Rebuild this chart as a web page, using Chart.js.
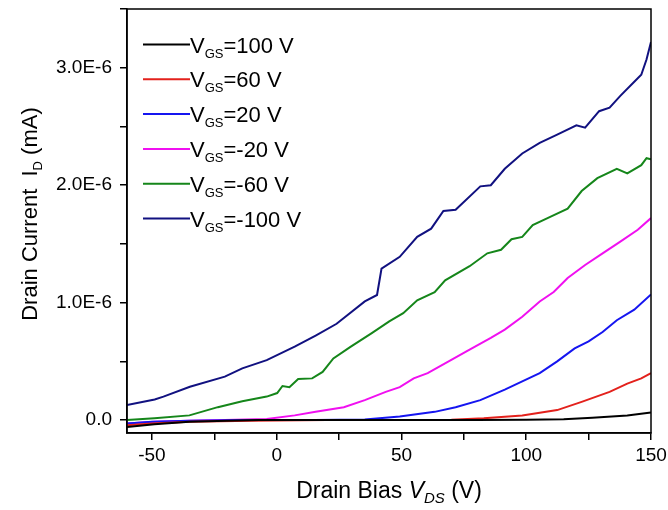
<!DOCTYPE html>
<html>
<head>
<meta charset="utf-8">
<script src="https://cdn.jsdelivr.net/npm/chart.js@4/dist/chart.umd.min.js"></script>
<style>
  html, body { margin: 0; padding: 0; background: #fff; }
  #wrap { width: 668px; height: 510px; }
</style>
</head>
<body>
<div id="wrap"><canvas id="ivChart" width="668" height="510"></canvas></div>
<script>
// currents in units of 1E-6 mA
var vgs100X = [-60, -49, -35, -20, -7, 30, 80, 100, 115, 126.5, 140.5, 150];
var vgs100Y = [-0.06, -0.035, -0.015, -0.005, 0, 0, 0, 0.003, 0.008, 0.02, 0.04, 0.065];

var vgs60X = [-60, -50, -35, -10, 20, 50, 70, 83, 98.4, 112.4, 122.2, 133.4, 140.5, 146.1, 150];
var vgs60Y = [-0.045, -0.03, -0.015, -0.005, 0, 0, 0.003, 0.015, 0.04, 0.085, 0.155, 0.24, 0.31, 0.355, 0.40];

var vgs20X = [-60, -50, -35, -10, 15, 35.3, 49.3, 63.3, 71.7, 81.6, 91.4, 98.4, 105.4, 112.4, 119.4, 125, 130.6, 136.3, 143.3, 150];
var vgs20Y = [-0.03, -0.015, -0.005, 0, 0, 0.005, 0.03, 0.07, 0.11, 0.17, 0.26, 0.33, 0.40, 0.50, 0.61, 0.67, 0.75, 0.85, 0.94, 1.07];

var vgsm20X = [-60, -49, -35, -20.8, -4, 7.2, 15.6, 26.9, 35.3, 43.7, 49.3, 54.9, 60.5, 68.9, 77.3, 85.8, 91.4, 98.4, 105.4, 111, 116.6, 123.6, 130.6, 137.7, 144.7, 150];
var vgsm20Y = [-0.03, -0.015, -0.005, 0, 0.01, 0.04, 0.07, 0.11, 0.17, 0.24, 0.28, 0.355, 0.40, 0.50, 0.60, 0.70, 0.77, 0.88, 1.01, 1.09, 1.21, 1.32, 1.42, 1.52, 1.62, 1.72];

var vgsm60X = [-60, -49, -35, -23.6, -13.8, -4, 0.2, 2.3, 5.1, 8.6, 14.2, 18.4, 22.7, 29.7, 38.1, 45.1, 50.7, 56.3, 63.3, 67.5, 77.3, 84.4, 89.9, 94.1, 98.4, 102.6, 109.6, 116.6, 122.2, 128.5, 136.3, 140.5, 146.1, 148.2, 150];
var vgsm60Y = [0, 0.015, 0.04, 0.11, 0.16, 0.2, 0.23, 0.29, 0.28, 0.35, 0.355, 0.41, 0.525, 0.625, 0.74, 0.84, 0.91, 1.02, 1.09, 1.19, 1.31, 1.42, 1.45, 1.54, 1.56, 1.66, 1.73, 1.80, 1.95, 2.06, 2.14, 2.10, 2.17, 2.23, 2.22];

var vgsm100X = [-60, -48.9, -45.4, -34.8, -20.8, -13.8, -4, 7.2, 15.6, 24, 35.3, 40.2, 42, 49.3, 56.3, 61.9, 66.8, 71.7, 81.6, 85.8, 91.4, 98.4, 105.4, 112.4, 120.1, 123.6, 129.2, 133.4, 137.7, 143.3, 146.1, 148.2, 150];
var vgsm100Y = [0.128, 0.176, 0.20, 0.284, 0.37, 0.44, 0.51, 0.625, 0.72, 0.82, 1.01, 1.065, 1.29, 1.39, 1.56, 1.63, 1.78, 1.79, 1.99, 2.0, 2.14, 2.27, 2.36, 2.43, 2.51, 2.49, 2.63, 2.66, 2.76, 2.88, 2.94, 3.07, 3.22];

var seriesLabels = ['=100 V', '=60 V', '=20 V', '=-20 V', '=-60 V', '=-100 V'];
var seriesColors = ['#000000', '#e3211c', '#1515f0', '#f010f0', '#15861a', '#111180'];
var seriesX = [vgs100X, vgs60X, vgs20X, vgsm20X, vgsm60X, vgsm100X];
var seriesY = [vgs100Y, vgs60Y, vgs20Y, vgsm20Y, vgsm60Y, vgsm100Y];

var FONT = '"Liberation Sans", Arial, sans-serif';

function toPoints(xs, ys) {
	var pts = [];
	for (var i = 0; i < xs.length; i++) pts.push({x: xs[i], y: ys[i]});
	return pts;
}

var datasets = [];
for (var i = 0; i < seriesLabels.length; i++) {
	datasets.push({
		label: 'VGS' + seriesLabels[i],
		data: toPoints(seriesX[i], seriesY[i]),
		borderColor: seriesColors[i],
		backgroundColor: seriesColors[i],
		borderWidth: 2,
		pointRadius: 0,
		tension: 0,
		fill: false
	});
}

// box round the plot area
var framePlugin = {
	id: 'frame',
	afterDatasetsDraw: function(chart) {
		var a = chart.chartArea, ctx = chart.ctx;
		ctx.save();
		ctx.strokeStyle = '#000';
		ctx.lineWidth = 1.5;
		ctx.strokeRect(a.left, a.top, a.right - a.left, a.bottom - a.top);
		ctx.restore();
	}
};

// draws runs of text with subscripts / italics, starting at x
function drawRuns(ctx, runs, x, y) {
	runs.forEach(function(r) {
		ctx.font = (r.italic ? 'italic ' : '') + r.size + 'px ' + FONT;
		ctx.fillText(r.text, x, y + (r.dy || 0));
		x += ctx.measureText(r.text).width;
	});
	return x;
}
function runsWidth(ctx, runs) {
	var w = 0;
	runs.forEach(function(r) {
		ctx.font = (r.italic ? 'italic ' : '') + r.size + 'px ' + FONT;
		w += ctx.measureText(r.text).width;
	});
	return w;
}

var labelPlugin = {
	id: 'labels',
	afterDraw: function(chart) {
		var ctx = chart.ctx;
		ctx.save();
		ctx.fillStyle = '#000';
		ctx.textBaseline = 'alphabetic';
		ctx.textAlign = 'left';

		// legend
		for (var i = 0; i < seriesLabels.length; i++) {
			var ly = 44.5 + i * 34.8;
			ctx.strokeStyle = seriesColors[i];
			ctx.lineWidth = 2;
			ctx.beginPath();
			ctx.moveTo(143, ly);
			ctx.lineTo(190, ly);
			ctx.stroke();
			drawRuns(ctx, [
				{text: 'V', size: 22},
				{text: 'GS', size: 13, dy: 5},
				{text: seriesLabels[i], size: 22}
			], 190, ly + 8);
		}

		// x title
		var xr = [
			{text: 'Drain Bias ', size: 23},
			{text: 'V', size: 23, italic: true},
			{text: 'DS', size: 15, italic: true, dy: 5},
			{text: ' (V)', size: 23}
		];
		var a = chart.chartArea;
		var cx = (a.left + a.right) / 2;
		drawRuns(ctx, xr, cx - runsWidth(ctx, xr) / 2, 498);

		// y title
		var yr = [
			{text: 'Drain Current  I', size: 22},
			{text: 'D', size: 13, dy: 5},
			{text: ' (mA)', size: 22}
		];
		ctx.translate(37, 214);
		ctx.rotate(-Math.PI / 2);
		drawRuns(ctx, yr, -runsWidth(ctx, yr) / 2, 0);
		ctx.restore();
	}
};

var config = {
	type: 'line',
	data: { datasets: datasets },
	options: {
		responsive: false,
		animation: false,
		layout: { padding: { top: 9, right: 17, bottom: 0, left: 0 } },
		plugins: {
			legend: { display: false },
			tooltip: { enabled: false }
		},
		scales: {
			x: {
				type: 'linear',
				min: -60,
				max: 150,
				afterFit: function(s) { s.height = 77; s.paddingLeft = 0; s.paddingRight = 0; },
				border: { color: '#000', width: 1.5 },
				grid: { drawOnChartArea: false, color: '#000', lineWidth: 1.5, tickLength: 7 },
				ticks: {
					stepSize: 25,
					includeBounds: false,
					maxRotation: 0,
					autoSkip: false,
					padding: 4,
					color: '#000',
					font: { family: FONT, size: 19 },
					callback: function(v) { return v % 50 === 0 ? String(v) : ''; }
				}
			},
			y: {
				type: 'linear',
				min: -0.11,
				max: 3.5,
				afterFit: function(s) { s.width = 127; s.paddingTop = 0; s.paddingBottom = 0; },
				border: { color: '#000', width: 1.5 },
				grid: { drawOnChartArea: false, color: '#000', lineWidth: 1.5, tickLength: 7 },
				ticks: {
					stepSize: 0.5,
					includeBounds: false,
					autoSkip: false,
					padding: 8,
					color: '#000',
					font: { family: FONT, size: 19 },
					callback: function(v) {
						if (Math.abs(v) < 1e-9) return '0.0';
						if (Math.abs(v - Math.round(v)) < 1e-9) return v.toFixed(1) + 'E-6';
						return '';
					}
				}
			}
		}
	},
	plugins: [framePlugin, labelPlugin]
};

var ctx = document.getElementById('ivChart').getContext('2d');
window.ivChart = new Chart(ctx, config);
</script>
</body>
</html>
